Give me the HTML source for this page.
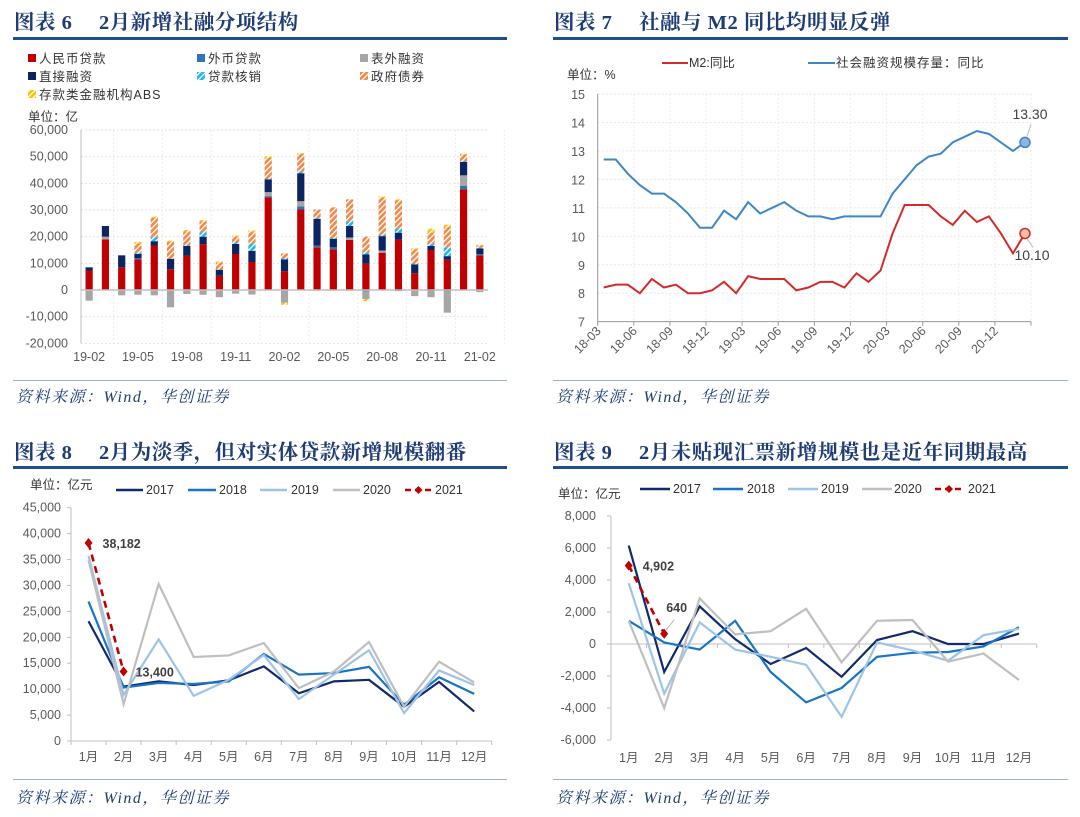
<!DOCTYPE html>
<html><head><meta charset="utf-8">
<style>
html,body{margin:0;padding:0;background:#fff;}
svg{display:block;}
text{font-family:"Liberation Sans","Noto Sans CJK SC",sans-serif;}
.ttl{font-family:"Liberation Serif","Noto Serif CJK SC",serif;font-weight:bold;font-size:20.5px;fill:#1f3c74;letter-spacing:0.5px;}
.src{font-family:"Liberation Serif","Noto Serif CJK SC",serif;font-style:italic;font-size:16px;fill:#1f3c74;letter-spacing:1.5px;}
.tk{font-size:12.5px;fill:#595959;}
.lg{font-size:12.5px;fill:#333;}
</style></head>
<body>
<svg id="root" width="1080" height="817" viewBox="0 0 1080 817" xmlns="http://www.w3.org/2000/svg">
<defs>
<pattern id="hc" patternUnits="userSpaceOnUse" width="4" height="4" patternTransform="rotate(45)"><rect width="4" height="4" fill="#22b5ea"/><rect width="1.3" height="4" fill="#fff"/></pattern>
<pattern id="ho" patternUnits="userSpaceOnUse" width="4" height="4" patternTransform="rotate(45)"><rect width="4" height="4" fill="#f08a4b"/><rect width="1.3" height="4" fill="#fff"/></pattern>
<pattern id="hy" patternUnits="userSpaceOnUse" width="4" height="4" patternTransform="rotate(45)"><rect width="4" height="4" fill="#ffc000"/><rect width="1.3" height="4" fill="#fff"/></pattern>
</defs>
<text class="ttl" x="14" y="29">图表 6　 2月新增社融分项结构</text>
<rect x="13" y="37" width="494" height="3" fill="#1f4e8c"/>
<text class="ttl" x="554" y="29">图表 7　 社融与 M2 同比均明显反弹</text>
<rect x="553" y="37" width="515" height="3" fill="#1f4e8c"/>
<text class="ttl" x="14" y="459">图表 8　 2月为淡季，但对实体贷款新增规模翻番</text>
<rect x="13" y="466" width="494" height="3" fill="#1f4e8c"/>
<text class="ttl" x="554" y="459">图表 9　 2月未贴现汇票新增规模也是近年同期最高</text>
<rect x="553" y="466" width="515" height="3" fill="#1f4e8c"/>
<rect x="13" y="380" width="494" height="1" fill="#9fb3cf"/>
<rect x="553" y="380" width="515" height="1" fill="#9fb3cf"/>
<rect x="13" y="779" width="494" height="1" fill="#9fb3cf"/>
<rect x="553" y="779" width="515" height="1" fill="#9fb3cf"/>
<text class="src" x="16" y="402">资料来源：Wind，华创证券</text>
<text class="src" x="556" y="402">资料来源：Wind，华创证券</text>
<text class="src" x="16" y="803">资料来源：Wind，华创证券</text>
<text class="src" x="556" y="803">资料来源：Wind，华创证券</text>
<g id="c6"></g>
<g id="c7"></g>
<g id="c8"></g>
<g id="c9"></g>
</svg>
<script>
const c6Cats = ['19-02','19-03','19-04','19-05','19-06','19-07','19-08','19-09','19-10','19-11','19-12','20-01','20-02','20-03','20-04','20-05','20-06','20-07','20-08','20-09','20-10','20-11','20-12','21-01','21-02'];
const c6Rmb   = [7.3,19,8.5,11.5,16.7,7.8,12.8,17.2,5.3,13.5,10.5,34.8,7,30.2,16,15.3,18.8,9.9,14,18.9,6.3,15,11.3,37.8,13];
const c6Fx    = [0,0,0,0.5,0,0,0,-0.3,0,0,0,0.4,0,1.2,0.7,0.7,0,-0.5,0,-0.4,0,-0.4,-0.5,1.2,0.5];
const c6Off   = [-4,1,-2,-1.8,-2,-6.5,-1.5,-1.5,-2.7,-1.4,-1.7,1.5,-4.8,1.9,0,0,0.9,-2.9,0.8,0,-2.3,-2.3,-8,4,-0.8];
const c6Dir   = [1.2,4,4.5,1.5,1.6,3.9,3.7,2.8,2.3,3.8,4.2,4.8,4.5,10.5,10,3.2,4.3,3.5,5.4,2.6,3.3,1.5,1.4,5,2.1];
const c6Wo    = [0,0,0,0.5,1.4,0,0.3,1.7,0,0.5,2.7,0.3,0.3,0.7,0.3,0.3,1.8,0.8,0.5,1.5,0.3,0.7,3.3,0.3,0.2];
const c6Gov   = [0,0,0,3.5,7.3,6.3,5.2,4,2.6,2.2,4.3,7.7,1.9,6.5,3.2,11.5,8.2,5.8,13.8,10.6,5.3,4.3,7.7,2.5,0.9];
const c6Abs   = [0,0,0,0.5,0.5,0.5,0.5,0.5,0.5,0.4,0.6,0.6,-0.7,0.3,-0.3,-0.3,-0.3,-0.8,0.5,0.4,0.4,1.5,0.8,0.3,0.2];
const c6Ticks = [60000,50000,40000,30000,20000,10000,0,-10000,-20000];
const c6TickLabels = ['60,000','50,000','40,000','30,000','20,000','10,000','0','-10,000','-20,000'];
const c7Ticks = [15,14,13,12,11,10,9,8,7];
const c7XLabels = ['18-03','18-06','18-09','18-12','19-03','19-06','19-09','19-12','20-03','20-06','20-09','20-12'];
const c7M2 = [8.2,8.3,8.3,8.0,8.5,8.2,8.3,8.0,8.0,8.1,8.4,8.0,8.6,8.5,8.5,8.5,8.1,8.2,8.4,8.4,8.2,8.7,8.4,8.8,10.1,11.1,11.1,11.1,10.7,10.4,10.9,10.5,10.7,10.1,9.4,10.1];
const c7Tsf = [12.7,12.7,12.2,11.8,11.5,11.5,11.2,10.8,10.3,10.3,10.9,10.6,11.2,10.8,11.0,11.2,10.9,10.7,10.7,10.6,10.7,10.7,10.7,10.7,11.5,12.0,12.5,12.8,12.9,13.3,13.5,13.7,13.6,13.3,13.0,13.3];
const months = ['1月','2月','3月','4月','5月','6月','7月','8月','9月','10月','11月','12月'];
const c8Ticks = [45000,40000,35000,30000,25000,20000,15000,10000,5000,0];
const c8TickLabels = ['45,000','40,000','35,000','30,000','25,000','20,000','15,000','10,000','5,000','0'];
const c8Y2017 = [23100,10500,11500,10800,11700,14400,9200,11500,11800,6600,11400,5700];
const c8Y2018 = [26900,10300,11200,11000,11500,16800,12800,13100,14300,7000,12300,9100];
const c8Y2019 = [35700,8900,19600,8700,11800,16600,8100,12800,17500,5400,13600,10800];
const c8Y2020 = [34900,7100,30300,16200,16500,18900,10200,13400,19100,6600,15300,11300];
const c8Y2021 = [38182,13400];
const c9Ticks = [8000,6000,4000,2000,0,-2000,-4000,-6000];
const c9TickLabels = ['8,000','6,000','4,000','2,000','0','-2,000','-4,000','-6,000'];
const c9Y2017 = [6150,-1750,2350,300,-1250,-250,-2050,250,800,0,0,650];
const c9Y2018 = [1450,100,-350,1450,-1750,-3650,-2750,-800,-550,-500,-150,1050];
const c9Y2019 = [3800,-3100,1350,-350,-800,-1300,-4550,100,-400,-1050,550,950];
const c9Y2020 = [1450,-4000,2850,600,800,2200,-1150,1450,1500,-1100,-600,-2250];
const c9Y2021 = [4902,640];

const NS='http://www.w3.org/2000/svg';
function mk(p,tag,attrs,txt){const e=document.createElementNS(NS,tag);for(const k in attrs)e.setAttribute(k,attrs[k]);if(txt!==undefined)e.textContent=txt;p.appendChild(e);return e;}

(function(){
const g=document.getElementById('c6');
const x0=81,x1=488,y=v=>290-v*(160/60000);
const n=c6Cats.length,bw=(x1-x0)/n;
const cx=i=>x0+bw*(i+0.5);
for(let i=0;i<c6Ticks.length;i++){
  const yy=y(c6Ticks[i]);
  const gl=mk(g,'line',{x1:x0,x2:x1,y1:yy,y2:yy,stroke:'#e3e3e3','stroke-dasharray':'2,2'});
  
  const t=mk(g,'text',{x:68,y:yy+4,'text-anchor':'end',class:'tk'},c6TickLabels[i]);
  
}
for(let i=0;i<n;i+=3){
  const xx=x0+bw*i+bw/2;
  const gl=mk(g,'line',{x1:xx+bw*1.5,x2:xx+bw*1.5,y1:y(60000),y2:y(-20000),stroke:'#ececec','stroke-dasharray':'2,2'});
  
  const t=mk(g,'text',{x:cx(i),y:361,'text-anchor':'middle',class:'tk'},c6Cats[i]);
  
}
const series=[[c6Rmb,'#c00000','rmb-loan'],[c6Fx,'#2e75b6','fx-loan'],[c6Off,'#a6a6a6','off-balance'],[c6Dir,'#0c2461','direct-finance'],[c6Wo,'url(#hc)','loan-writeoff'],[c6Gov,'url(#ho)','gov-bonds'],[c6Abs,'url(#hy)','abs']];
for(let i=0;i<n;i++){
  let pos=0,neg=0;
  for(const s of series){
    const v=s[0][i]*1000; if(!v)continue;
    let a,b; if(v>0){a=pos;b=pos+v;pos=b;}else{a=neg;b=neg+v;neg=b;}
    const r=mk(g,'rect',{x:cx(i)-3.6,width:7.2,y:Math.min(y(a),y(b)),height:Math.abs(y(a)-y(b)),fill:s[1]});
    
  }
}
const ax=mk(g,'line',{x1:x0,x2:x0,y1:y(60000),y2:y(-20000),stroke:'#bfbfbf'});

const zl=mk(g,'line',{x1:x0,x2:x1,y1:y(0),y2:y(0),stroke:'#bfbfbf','stroke-width':1.5});

const leg=[['人民币贷款','#c00000',28,62],['外币贷款','#2e75b6',197,62],['表外融资','#a6a6a6',360,62],['直接融资','#0c2461',28,80],['贷款核销','url(#hc)',197,80],['政府债券','url(#ho)',360,80],['存款类金融机构ABS','url(#hy)',28,98]];
for(const l of leg){
  const lg=mk(g,'g',{});
  
  mk(lg,'rect',{x:l[2],y:l[3]-8,width:8,height:8,fill:l[1]});
  mk(lg,'text',{x:l[2]+11,y:l[3]+1,class:'lg','font-size':'13.5','letter-spacing':'1'},l[0]);
}
const u=mk(g,'text',{x:28,y:121,class:'lg'},'单位：亿');

})();

(function(){
const g=document.getElementById('c7');
const x0=597.7,x1=1031,y=v=>94+(15-v)*28.46;
const bw=(x1-x0)/c7M2.length,cx=i=>x0+bw*(i+0.5);
for(const t of c7Ticks){
  const yy=y(t);
  const gl=mk(g,'line',{x1:x0,x2:x1,y1:yy,y2:yy,stroke:'#e6e6e6','stroke-dasharray':'2,2'});
  
  const tx=mk(g,'text',{x:585,y:yy+5,'text-anchor':'end',class:'tk','font-family':'Liberation Serif, serif','font-size':'14'},String(t));
  
}
for(let k=0;k<=12;k++){
  const xx=x0+bw*3*k;
  mk(g,'line',{x1:xx,x2:xx,y1:y(15),y2:y(7),stroke:'#eeeeee','stroke-dasharray':'2,2'});
  mk(g,'line',{x1:xx,x2:xx,y1:y(7),y2:y(7)+4,stroke:'#999'});
  if(k<12){
    const t=mk(g,'text',{x:xx+4,y:y(7)+10,'text-anchor':'end',class:'tk','font-family':'Liberation Serif, serif','font-size':'13',transform:`rotate(-45 ${xx+4} ${y(7)+10})`},c7XLabels[k]);
    
  }
}
mk(g,'line',{x1:x0,x2:x0,y1:y(15),y2:y(7),stroke:'#999'});
mk(g,'line',{x1:x0,x2:x1,y1:y(7),y2:y(7),stroke:'#999'});
const draw=(arr,col,name)=>{const p=mk(g,'polyline',{points:arr.map((v,i)=>cx(i)+','+y(v)).join(' '),fill:'none',stroke:col,'stroke-width':2});
  return p;};
draw(c7Tsf,'#3f86c6','tsf-yoy-line');
draw(c7M2,'#d42a2a','m2-yoy-line');
const L=c7M2.length-1;
const m1=mk(g,'circle',{cx:cx(L),cy:y(c7Tsf[L]),r:5,fill:'#8db4e2',stroke:'#3f86c6','stroke-width':1.5});

const m2=mk(g,'circle',{cx:cx(L),cy:y(c7M2[L]),r:5,fill:'#f4c0a8',stroke:'#d42a2a','stroke-width':1.5});

mk(g,'line',{x1:cx(L)+2,y1:y(c7Tsf[L])-6,x2:cx(L)+6,y2:y(c7Tsf[L])-18,stroke:'#bbb'});
mk(g,'line',{x1:cx(L)+2,y1:y(c7M2[L])+5,x2:cx(L)+8,y2:y(c7M2[L])+14,stroke:'#bbb'});
const a1=mk(g,'text',{x:1030,y:119,'text-anchor':'middle','font-family':'Liberation Serif, serif','font-size':'14',fill:'#404040'},c7Tsf[L].toFixed(2));

const a2=mk(g,'text',{x:1032,y:260,'text-anchor':'middle','font-family':'Liberation Serif, serif','font-size':'14',fill:'#404040'},c7M2[L].toFixed(2));

const l1=mk(g,'g',{});
mk(l1,'line',{x1:662,x2:688,y1:63,y2:63,stroke:'#d42a2a','stroke-width':2});
mk(l1,'text',{x:689,y:67,class:'lg'},'M2:同比');
const l2=mk(g,'g',{});
mk(l2,'line',{x1:808,x2:835,y1:63,y2:63,stroke:'#3f86c6','stroke-width':2});
mk(l2,'text',{x:836,y:67,class:'lg','letter-spacing':'1'},'社会融资规模存量：同比');
const u=mk(g,'text',{x:567,y:79,class:'lg'},'单位：%');

})();

function lineChart(id,pre,x0,x1,yTop,yBot,vTop,vBot,ticks,labels,series,tickX,labY,legY,legPos,unit){
  const g=document.getElementById(id);
  const y=v=>yTop+(vTop-v)*(yBot-yTop)/(vTop-vBot);
  const bw=(x1-x0)/12,cx=i=>x0+bw*(i+0.5);
  for(let i=0;i<ticks.length;i++){
    const yy=y(ticks[i]);
    mk(g,'line',{x1:x0-4,x2:x0,y1:yy,y2:yy,stroke:'#bfbfbf'});
    const t=mk(g,'text',{x:tickX,y:yy+4,'text-anchor':'end',class:'tk'},labels[i]);
    
  }
  const ya=mk(g,'line',{x1:x0,x2:x0,y1:yTop,y2:yBot,stroke:'#bfbfbf'});
  
  const xa=mk(g,'line',{x1:x0,x2:x1,y1:y(0),y2:y(0),stroke:'#bfbfbf'});
  
  for(let k=0;k<=12;k++){const xx=x0+bw*k;mk(g,'line',{x1:xx,x2:xx,y1:y(0),y2:y(0)+4,stroke:'#bfbfbf'});}
  months.forEach((m,i)=>{const t=mk(g,'text',{x:cx(i),y:labY,'text-anchor':'middle',class:'tk'},m);
    });
  series.forEach((s,j)=>{
    const p=mk(g,'polyline',{points:s.data.map((v,i)=>cx(i)+','+y(v)).join(' '),fill:'none',stroke:s.col,'stroke-width':2.2});
    if(s.dash){p.setAttribute('stroke-dasharray','7,5');p.setAttribute('stroke-width',2.6);}
    
    if(s.dash){s.data.forEach((v,i)=>{const d=mk(g,'path',{d:`M${cx(i)},${y(v)-5}l4,5l-4,5l-4,-5z`,fill:s.col});
      });}
    const lg=mk(g,'g',{});
    const [lx1,lx2,tx]=legPos[j];
    mk(lg,'line',{x1:lx1,x2:lx2,y1:legY,y2:legY,stroke:s.col,'stroke-width':2.5,'stroke-dasharray':s.dash?'6,4':'none'});
    if(s.dash)mk(lg,'path',{d:`M${(lx1+lx2)/2},${legY-4}l4,4l-4,4l-4,-4z`,fill:s.col});
    mk(lg,'text',{x:tx,y:legY+4,class:'lg','font-size':'13',fill:'#404040'},s.name);
  });
  const u=mk(g,'text',{x:unit[0],y:unit[1],class:'lg','font-size':'11.5'},'单位：亿元');
  
  return {y,cx,g};
}
const k8=lineChart('c8','chart8',71,491.7,507.7,741,45000,0,c8Ticks,c8TickLabels,[
 {name:'2017',data:c8Y2017,col:'#12296b'},{name:'2018',data:c8Y2018,col:'#1874c5'},{name:'2019',data:c8Y2019,col:'#9dc3e6'},{name:'2020',data:c8Y2020,col:'#bfbfbf'},{name:'2021',data:c8Y2021,col:'#c00000',dash:true}],
 61,761,490,[[116,143,146],[188,216,219],[260,287,291],[333,360,363],[405,432,435]],[30,489]);
(function(){const t1=mk(k8.g,'text',{x:k8.cx(0)+14,y:k8.y(c8Y2021[0])+5,'font-weight':'bold','font-size':'12.5',fill:'#404040'},c8Y2021[0].toLocaleString('en-US'));

const t2=mk(k8.g,'text',{x:k8.cx(1)+12,y:k8.y(c8Y2021[1])+5,'font-weight':'bold','font-size':'12.5',fill:'#404040'},c8Y2021[1].toLocaleString('en-US'));
})();
const k9=lineChart('c9','chart9',611,1036.7,516,740,8000,-6000,c9Ticks,c9TickLabels,[
 {name:'2017',data:c9Y2017,col:'#12296b'},{name:'2018',data:c9Y2018,col:'#1874c5'},{name:'2019',data:c9Y2019,col:'#9dc3e6'},{name:'2020',data:c9Y2020,col:'#bfbfbf'},{name:'2021',data:c9Y2021,col:'#c00000',dash:true}],
 596,762,489,[[640,670,673],[713,743,747],[788,818,821],[862,892,894],[935,963,968]],[558,498]);
(function(){const t1=mk(k9.g,'text',{x:k9.cx(0)+14,y:k9.y(c9Y2021[0])+5,'font-weight':'bold','font-size':'12.5',fill:'#404040'},c9Y2021[0].toLocaleString('en-US'));

mk(k9.g,'line',{x1:k9.cx(1)+2,y1:k9.y(c9Y2021[1])-4,x2:k9.cx(1)+10,y2:k9.y(c9Y2021[1])-14,stroke:'#bbb'});
const t2=mk(k9.g,'text',{x:k9.cx(1)+2,y:k9.y(c9Y2021[1])-22,'font-weight':'bold','font-size':'12.5',fill:'#404040'},c9Y2021[1].toLocaleString('en-US'));
})();
</script>
</body></html>
